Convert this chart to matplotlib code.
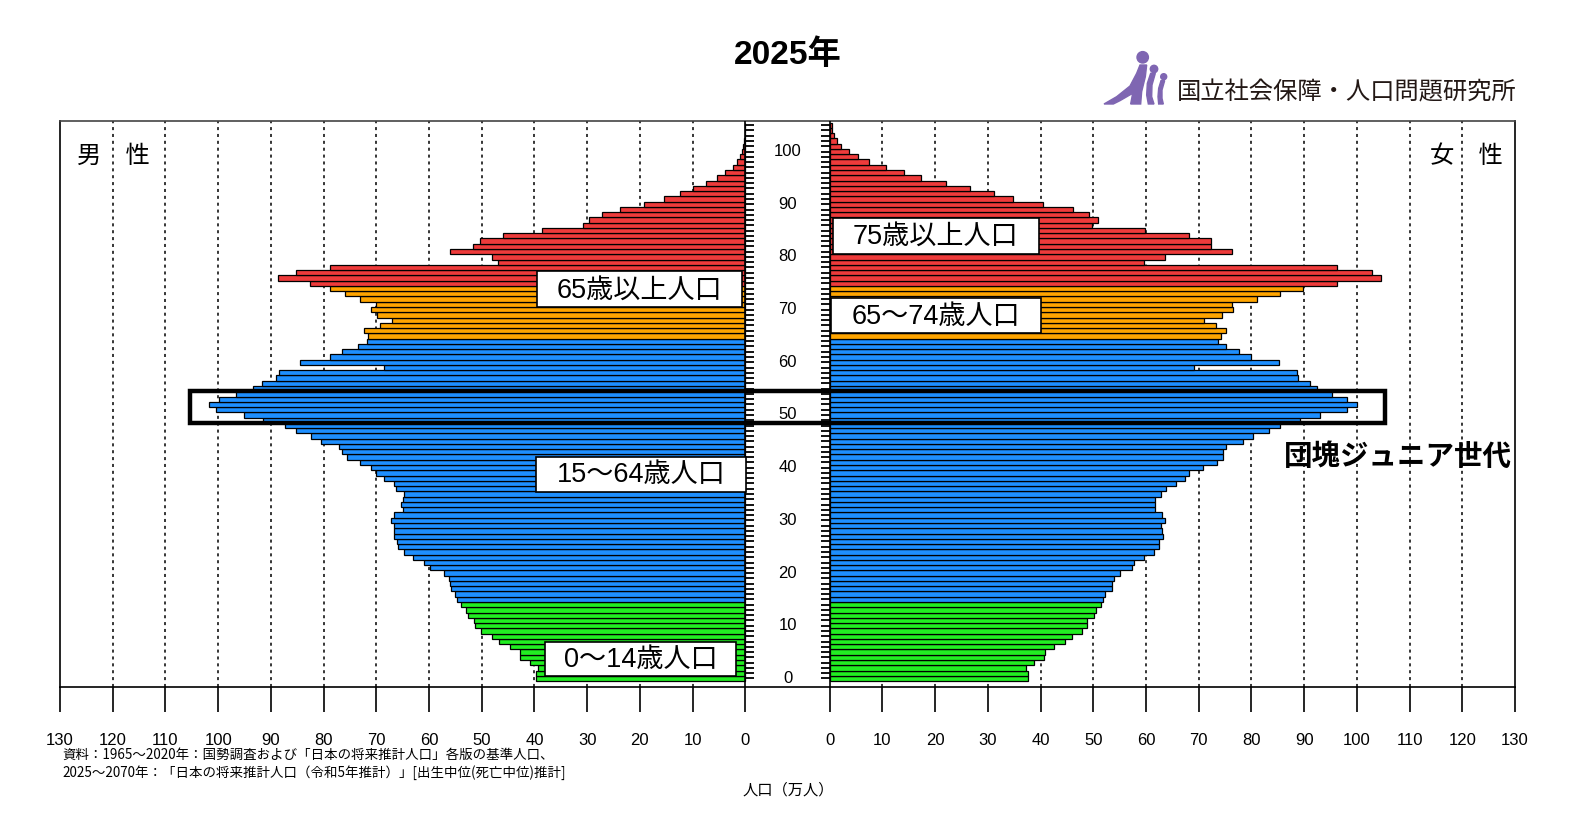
import matplotlib.pyplot as plt
from matplotlib.patches import Rectangle, Circle, Polygon

plt.rcParams['font.family'] = ['Liberation Sans', 'Noto Sans CJK JP', 'DejaVu Sans']

# Data: population by single year of age (10,000 persons), 2025
ages = list(range(0, 106))
male = [
    39.8, 39.8, 39.3, 40.8, 42.7, 42.7, 44.6, 46.8, 48.0, 50.1,
    51.2, 51.4, 52.7, 53.0, 54.0, 54.6, 55.1, 55.9, 56.0, 56.2,
    57.2, 59.8, 60.9, 63.0, 64.7, 65.9, 66.1, 66.7, 66.7, 66.7,
    67.2, 66.7, 65.0, 65.4, 65.0, 64.8, 66.2, 66.7, 68.6, 70.1,
    71.1, 73.1, 75.6, 76.5, 77.1, 80.4, 82.4, 85.2, 87.4, 91.5,
    95.1, 100.4, 101.7, 99.9, 96.6, 93.4, 91.6, 89.1, 88.4, 68.6,
    84.5, 78.7, 76.5, 73.4, 71.7, 71.5, 72.3, 69.3, 67.1, 69.8,
    71.1, 70.1, 73.1, 76.0, 78.7, 82.6, 88.6, 85.2, 78.7, 47.0,
    48.1, 56.0, 51.7, 50.3, 45.9, 38.6, 30.8, 29.6, 27.2, 23.7,
    19.3, 15.4, 12.4, 10.0, 7.4, 5.4, 3.8, 2.3, 1.5, 1.0,
    0.7, 0.4, 0.3, 0.15, 0.1, 0.1,
]
female = [
    37.7, 37.6, 37.3, 38.7, 40.7, 40.8, 42.5, 44.6, 46.0, 47.8,
    48.9, 48.8, 50.2, 50.5, 51.4, 51.8, 52.2, 53.5, 53.6, 53.9,
    55.1, 57.3, 57.8, 59.7, 61.5, 62.5, 62.5, 63.3, 63.1, 62.8,
    63.6, 63.1, 61.7, 61.8, 61.7, 62.8, 63.8, 65.6, 67.4, 68.2,
    70.9, 73.4, 74.6, 74.7, 75.1, 78.4, 80.3, 83.4, 85.4, 89.3,
    93.0, 98.1, 100.1, 98.1, 95.3, 92.5, 91.1, 88.9, 88.6, 69.2,
    85.3, 79.9, 77.6, 75.1, 73.7, 74.2, 75.2, 73.2, 71.1, 74.5,
    76.6, 76.4, 81.0, 85.5, 89.8, 96.2, 104.6, 102.8, 96.3, 59.7,
    63.6, 76.4, 72.3, 72.4, 68.2, 59.9, 49.8, 50.9, 49.1, 46.1,
    40.4, 34.8, 31.2, 26.6, 22.1, 17.3, 14.1, 10.7, 7.5, 5.4,
    3.6, 2.2, 1.3, 0.9, 0.5, 0.4,
]
x_ticks = list(range(0, 131, 10))
age_ticks = list(range(0, 101, 10))

# age groups: (upper bound exclusive, colour)
group_colors = [(15, '#22EE22'), (65, '#1E8FFF'), (75, '#FFA500'), (200, '#EE3B3B')]

def age_color(a):
    for upper, c in group_colors:
        if a < upper:
            return c

colors = [age_color(a) for a in ages]

G = 8.0  # half gap between the two pyramids (axis units)

fig = plt.figure(figsize=(15.75, 8.13), dpi=100)
ax = fig.add_axes([60 / 1575, (813 - 687) / 813, 1455 / 1575, (687 - 121) / 813])

# dotted grid
for v in x_ticks[1:-1]:
    ax.axvline(-G - v, color='black', ls=(0, (2, 2.5)), lw=1.1, zorder=1)
    ax.axvline(G + v, color='black', ls=(0, (2, 2.5)), lw=1.1, zorder=1)

ax.barh(ages, [-m for m in male], left=-G, height=1.0, color=colors,
        edgecolor='black', linewidth=0.9, zorder=3)
ax.barh(ages, female, left=G, height=1.0, color=colors,
        edgecolor='black', linewidth=0.9, zorder=3)

# zero lines + per-year ladder ticks
ax.axvline(-G, color='black', lw=1.2, zorder=4)
ax.axvline(G, color='black', lw=1.2, zorder=4)
ax.hlines(ages, -G, -G + 1.6, color='black', lw=1.3, zorder=4)
ax.hlines(ages, G - 1.6, G, color='black', lw=1.3, zorder=4)

for a in age_ticks:
    ax.text(0, a, str(a), ha='center', va='center', fontsize=12, zorder=5)

ax.set_xlim(-G - 130, G + 130)
ax.set_ylim(-1.63, 105.8)
ax.set_xticks([-G - v for v in x_ticks] + [G + v for v in x_ticks])
ax.set_xticklabels([str(v) for v in x_ticks] * 2)
ax.tick_params(axis='x', direction='out', length=18, width=1.2, pad=15, labelsize=12)
ax.set_yticks([])
for s in ax.spines.values():
    s.set_linewidth(1.2)
ax.spines['top'].set_color('#444444')

# dankai junior highlight box (ages 49-54)
ax.add_patch(Rectangle((-G - 105.3, 48.5), 2 * (G + 105.3), 6.0, fill=False,
                       ec='black', lw=3.2, zorder=6, clip_on=False))

# overlay in pixel coordinates for texts and logo
ov = fig.add_axes([0, 0, 1, 1])
ov.set_xlim(0, 1575)
ov.set_ylim(813, 0)
ov.axis('off')
ov.set_zorder(5)

ov.text(788, 55, '2025年', fontsize=24, fontweight='bold', ha='center', va='center')

box_labels = [
    ('65歳以上人口', 639.5, 289.3, 205, 36),
    ('15～64歳人口', 641, 474.2, 210, 35),
    ('0～14歳人口', 640.5, 658.7, 191, 34),
    ('75歳以上人口', 935.8, 236.2, 206, 36),
    ('65～74歳人口', 936, 315.8, 210, 35),
]
for txt, cx, cy, w, h in box_labels:
    ov.add_patch(Rectangle((cx - w / 2, cy - h / 2), w, h, fc='white', ec='black', lw=1.2))
    ov.text(cx, cy + 1, txt, fontsize=19.5, ha='center', va='center')

ov.text(1398, 456.7, '団塊ジュニア世代', fontsize=20.5, fontweight='bold',
        ha='center', va='center')
ov.text(113, 157, '男　性', fontsize=17.5, ha='center', va='center')
ov.text(1466, 157, '女　性', fontsize=17.5, ha='center', va='center')

cjk = ['Noto Sans CJK JP', 'DejaVu Sans']
ov.text(62, 755, '資料：1965～2020年：国勢調査および「日本の将来推計人口」各版の基準人口、',
        fontsize=9.7, ha='left', va='center', family=cjk)
ov.text(62, 773, '2025～2070年：「日本の将来推計人口（令和5年推計）」[出生中位(死亡中位)推計]',
        fontsize=9.7, ha='left', va='center', family=cjk)
ov.text(788, 790, '人口（万人）', fontsize=11, ha='center', va='center', family=cjk)

# institute logo
purple = '#7F66B2'
def zp(pts):
    return [(x / 3 + 1080, y / 3 + 30) for x, y in pts]

ov.add_patch(Circle((1142.7, 57.3), 5.7, color=purple))
ov.add_patch(Circle((1154, 69), 3.7, color=purple))
ov.add_patch(Circle((1163.7, 76.7), 3.0, color=purple))
ov.add_patch(Polygon(zp([(72, 222), (110, 200), (150, 168), (170, 130), (180, 105),
                         (200, 105), (196, 140), (185, 185), (182, 222), (152, 222),
                         (158, 190), (120, 212), (100, 222)]), color=purple))
ov.add_patch(Polygon(zp([(212, 130), (226, 130), (216, 165), (215, 200), (222, 222),
                         (205, 222), (200, 195), (202, 160)]), color=purple))
ov.add_patch(Polygon(zp([(243, 152), (254, 152), (246, 180), (246, 205), (250, 222),
                         (236, 222), (234, 200), (236, 175)]), color=purple))
ov.text(1177, 92, '国立社会保障・人口問題研究所', fontsize=17.5, color='#231815',
        ha='left', va='center', family=cjk)

fig.savefig('out.png', dpi=100)
